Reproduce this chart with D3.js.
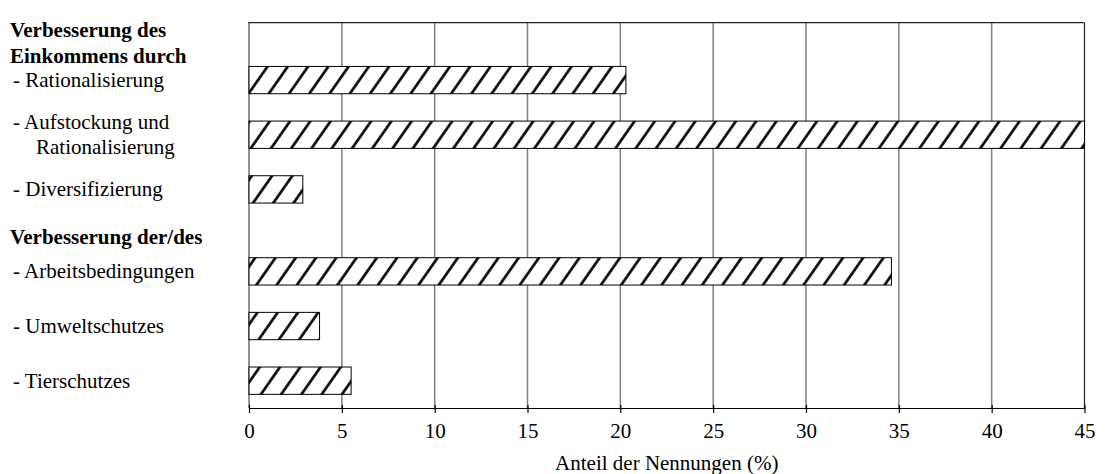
<!DOCTYPE html>
<html>
<head>
<meta charset="utf-8">
<script src="https://cdn.jsdelivr.net/npm/d3@7"></script>
<style>
  html, body { margin: 0; padding: 0; background: #fff; }
  svg { display: block; }
  text { font-family: "Liberation Serif", "Times New Roman", serif; fill: #000; }
</style>
</head>
<body>
<svg id="chart" width="1105" height="474"></svg>
<script>
// ---- data ----
const groupHeaders = [
  ["Verbesserung des", "Einkommens durch"],
  ["Verbesserung der/des"]
];
const categories = [
  ["- Rationalisierung"],
  ["- Aufstockung und", "Rationalisierung"],
  ["- Diversifizierung"],
  ["- Arbeitsbedingungen"],
  ["- Umweltschutzes"],
  ["- Tierschutzes"]
];
const categoryGroup = [0, 0, 0, 1, 1, 1];
const values = [20.3, 45, 2.9, 34.6, 3.8, 5.5];
const xTicks = [0, 5, 10, 15, 20, 25, 30, 35, 40, 45];
const xTitle = "Anteil der Nennungen (%)";

// ---- layout ----
const W = 1105, H = 474;
const plot = { left: 249, right: 1084.5, top: 22.7, bottom: 408 };
const svg = d3.select("#chart");
svg.append("rect").attr("width", W).attr("height", H).attr("fill", "#fff");

const x = d3.scaleLinear().domain([0, 45]).range([plot.left, plot.right]);
// slot index: items of the second group get an extra half row for its header
const slot = categories.map((c, i) => i + (categoryGroup[i] === 1 ? 0.5 : 0));
const y = d3.scaleLinear().domain([-1.05, 6]).range([plot.top, plot.bottom]);
const step = y(1) - y(0);
const barH = step * 0.5;

// hatch pattern
const defs = svg.append("defs");
const pat = defs.append("pattern")
  .attr("id", "hatch")
  .attr("patternUnits", "userSpaceOnUse")
  .attr("width", 16.6).attr("height", 16.6)
  .attr("patternTransform", "rotate(35)");
pat.append("rect").attr("width", 16.6).attr("height", 16.6).attr("fill", "#fff");
pat.append("line")
  .attr("x1", 8.3).attr("x2", 8.3).attr("y1", -1).attr("y2", 17.6)
  .attr("stroke", "#000").attr("stroke-width", 2.6);

// grid lines
svg.append("g").selectAll("line")
  .data(xTicks.filter(t => t > 0 && t < 45))
  .join("line")
  .attr("x1", d => x(d)).attr("x2", d => x(d))
  .attr("y1", plot.top).attr("y2", plot.bottom)
  .attr("stroke", "#7f7f7f").attr("stroke-width", 1.5);

// plot frame
svg.append("line").attr("x1", x(0)).attr("x2", x(0))
  .attr("y1", plot.top).attr("y2", plot.bottom)
  .attr("stroke", "#6f6f6f").attr("stroke-width", 1.5);
svg.append("line").attr("x1", x(0) - 0.75).attr("x2", x(45))
  .attr("y1", plot.top).attr("y2", plot.top)
  .attr("stroke", "#222").attr("stroke-width", 1.2);
svg.append("line").attr("x1", x(45)).attr("x2", x(45))
  .attr("y1", plot.top).attr("y2", plot.bottom)
  .attr("stroke", "#222").attr("stroke-width", 1.2);

// bars
svg.append("g").selectAll("rect")
  .data(values)
  .join("rect")
  .attr("x", x(0))
  .attr("y", (d, i) => y(slot[i]) - barH / 2)
  .attr("width", d => x(d) - x(0))
  .attr("height", barH)
  .attr("fill", "url(#hatch)")
  .attr("stroke", "#000").attr("stroke-width", 1);

// x axis
const xAxis = d3.axisBottom(x).tickValues(xTicks).tickSizeInner(5).tickSizeOuter(0).tickPadding(0);
const gx = svg.append("g").attr("transform", `translate(0,${plot.bottom})`).call(xAxis);
gx.select(".domain").attr("stroke", "#000").attr("stroke-width", 1.2);
gx.selectAll(".tick line").attr("y1", -3).attr("y2", 5).attr("stroke", "#000").attr("stroke-width", 1.2);
gx.selectAll(".tick text")
  .attr("y", 30).attr("dy", 0)
  .style("font-family", '"Liberation Serif", "Times New Roman", serif')
  .style("font-size", "21px").attr("fill", "#000");

svg.append("text")
  .attr("x", (plot.left + plot.right) / 2).attr("y", 470)
  .attr("text-anchor", "middle").style("font-size", "21px")
  .text(xTitle);

// category labels
const lab = svg.append("g");
categories.forEach((lines, i) => {
  const cy = y(slot[i]);
  const first = cy + 7 - (lines.length - 1) * 12.5;
  lines.forEach((ln, j) => {
    lab.append("text")
      .attr("x", j === 0 ? 13 : 36)
      .attr("y", first + j * 25)
      .style("font-size", "21px")
      .text(ln);
  });
});

// group headers
const firstOfGroup = [0, 3];
const headerOffset = [[-43.5, -17.5], [-27.5]];
groupHeaders.forEach((lines, g) => {
  const cy = y(slot[firstOfGroup[g]]);
  lines.forEach((ln, j) => {
    lab.append("text")
      .attr("x", 10)
      .attr("y", cy + headerOffset[g][j])
      .style("font-size", "21px").style("font-weight", "bold")
      .text(ln);
  });
});
</script>
</body>
</html>
